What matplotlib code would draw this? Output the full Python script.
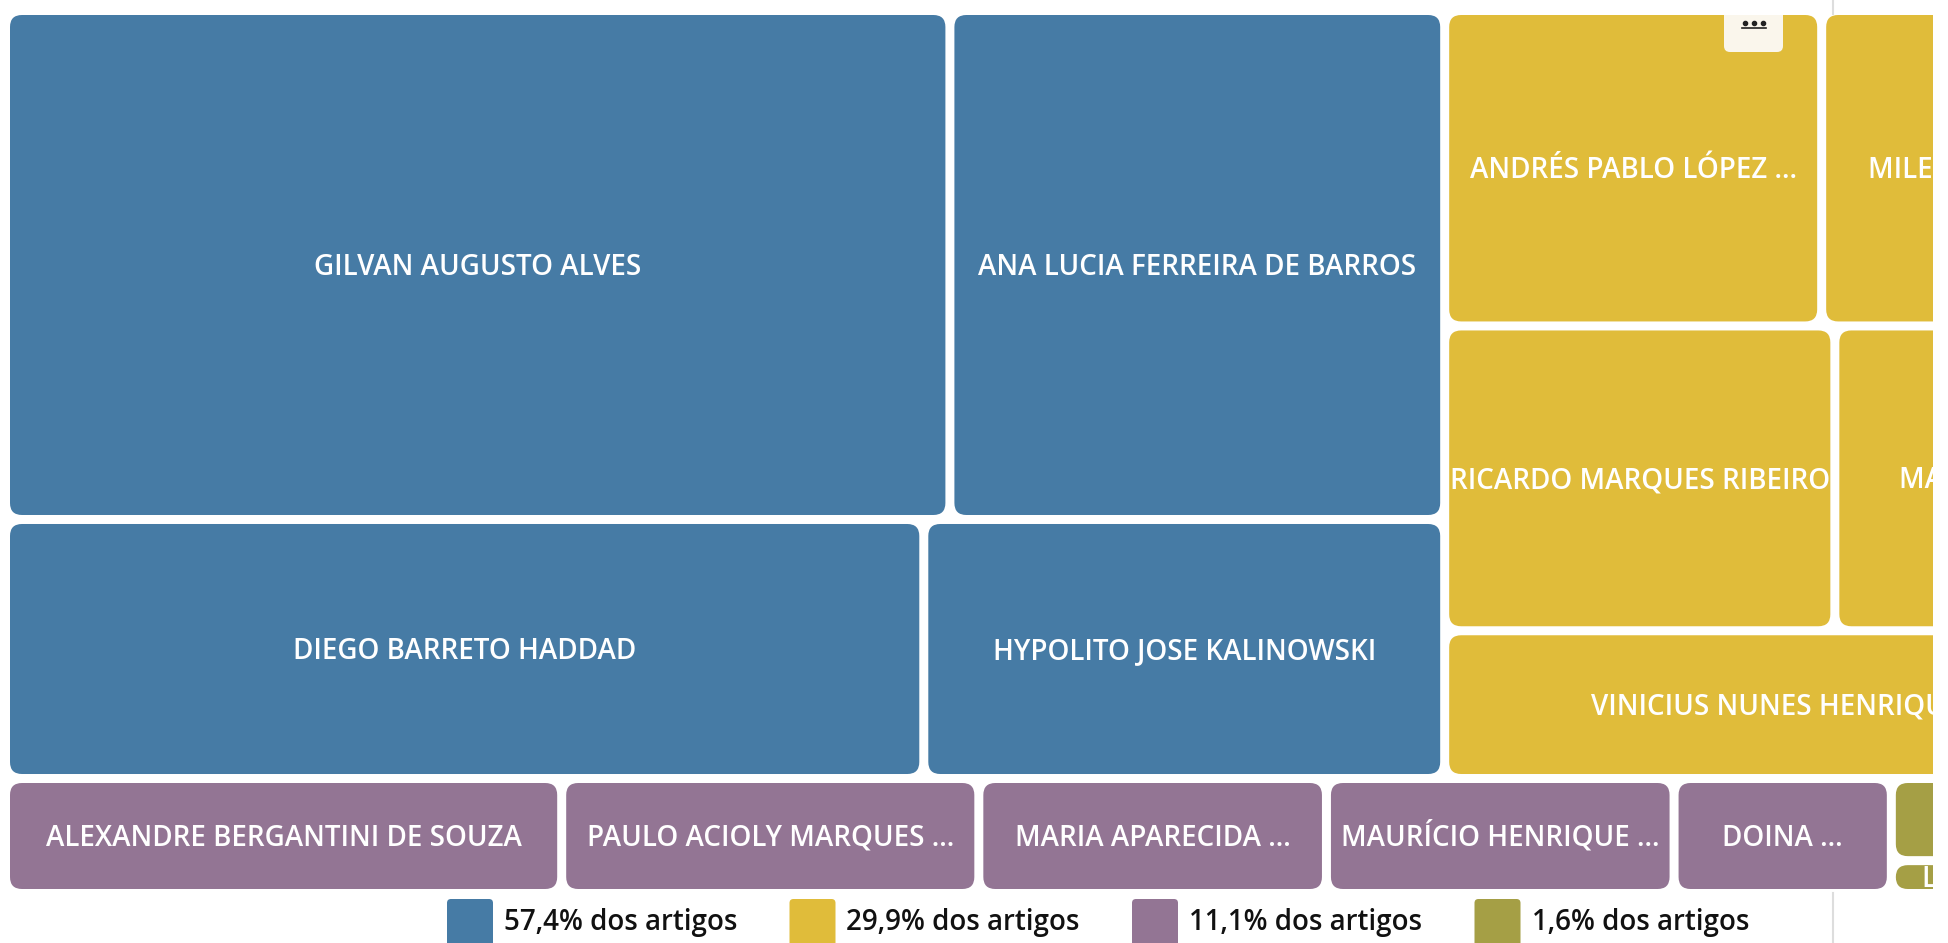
# -*- coding: utf-8 -*-
"""
Treemap de autores por participação nos artigos (recorte do painel)
"""
import matplotlib
matplotlib.use('Agg')
import matplotlib.pyplot as plt
from matplotlib.patches import FancyBboxPatch
from matplotlib.transforms import Bbox, TransformedBbox

plt.rcParams['font.family'] = ['Open Sans', 'DejaVu Sans']

# Dados
cores = ['#467BA5', '#E0BC3A', '#937594', '#A59F45']
legenda = ['57,4% dos artigos', '29,9% dos artigos', '11,1% dos artigos', '1,6% dos artigos']

nomes_azul = [['GILVAN AUGUSTO ALVES', 'ANA LUCIA FERREIRA DE BARROS'],
              ['DIEGO BARRETO HADDAD', 'HYPOLITO JOSE KALINOWSKI']]
valores_azul = [[481, 252], [238, 135]]

nomes_amarelo = [['ANDRÉS PABLO LÓPEZ ...', 'MILENA CRISTIANE ...'],
                 ['RICARDO MARQUES RIBEIRO', 'MARIA HELENA ...'],
                 ['VINICIUS NUNES HENRIQUES DE ...']]
valores_amarelo = [[119, 118], [119, 110], [111]]

nomes_roxo = [['ALEXANDRE BERGANTINI DE SOUZA', 'PAULO ACIOLY MARQUES ...', 'MARIA APARECIDA ...',
               'MAURÍCIO HENRIQUE ...', 'DOINA ...']]
valores_roxo = [[64, 48, 40, 40, 25]]

nomes_oliva = [['JOSÉ CARLOS ...'], ['L...', '', '']]
valores_oliva = [[25], [3.2, 3.4, 3.4]]

# faixas do treemap: (nomes, valores, cor)
faixas = [[(nomes_azul, valores_azul, cores[0]), (nomes_amarelo, valores_amarelo, cores[1])],
          [(nomes_roxo, valores_roxo, cores[2]), (nomes_oliva, valores_oliva, cores[3])]]

# Geometria (pixels)
FIG_W, FIG_H = 1948, 943
CLIP_X = 1933          # o visual está cortado à direita
X0, Y0 = 10, 15
TM_W, TM_H = 2190, 883
GAP = 9
RAIO = 12
FS_ROTULO = 20.0
FS_LEG = 20.0
PESO = 'semibold'
CAP = 0.714            # altura das maiúsculas (Open Sans)


def soma(linhas):
    return sum(sum(r) for r in linhas)


def layout_treemap(faixas, x0, y0, W, H):
    total = sum(soma(v) for faixa in faixas for _, v, _ in faixa)
    celulas = []
    y = y0
    for faixa in faixas:
        soma_faixa = sum(soma(v) for _, v, _ in faixa)
        h_f = H * soma_faixa / total
        x = x0
        for nomes, vals, cor in faixa:
            soma_g = soma(vals)
            w_g = W * soma_g / soma_faixa
            yy = y
            for linha_n, linha_v in zip(nomes, vals):
                h_l = h_f * sum(linha_v) / soma_g
                xx = x
                for n, v in zip(linha_n, linha_v):
                    w_c = w_g * v / sum(linha_v)
                    celulas.append((xx, yy, w_c, h_l, n, cor))
                    xx += w_c
                yy += h_l
            x += w_g
        y += h_f
    return celulas


fig = plt.figure(figsize=(FIG_W / 100, FIG_H / 100), dpi=100)
ax = fig.add_axes([0, 0, CLIP_X / FIG_W, 1])
ax.set_xlim(0, CLIP_X)
ax.set_ylim(FIG_H, 0)
ax.axis('off')

# linha divisória da página (só aparece fora do treemap)
ax.plot([1833, 1833], [0, Y0 - 1], color='#DDDDDD', lw=1.5, zorder=0)
ax.plot([1833, 1833], [893, FIG_H], color='#DDDDDD', lw=1.5, zorder=0)

for x, y, w, h, nome, cor in layout_treemap(faixas, X0, Y0, TM_W, TM_H):
    cw, ch = w - GAP, h - GAP
    ax.add_patch(FancyBboxPatch((x, y), cw, ch, boxstyle=f"round,pad=0,rounding_size={RAIO}",
                                facecolor=cor, edgecolor='none', zorder=2))
    if nome:
        fs_px = FS_ROTULO * 100 / 72
        t = ax.text(x + cw / 2, y + ch / 2 + CAP * fs_px / 2, nome, color='white',
                    fontsize=FS_ROTULO, fontweight=PESO, ha='center', va='baseline', zorder=3)
        caixa = Bbox.from_extents(x, y, min(x + cw, CLIP_X), y + ch)
        t.set_clip_box(TransformedBbox(caixa, ax.transData))
        t.set_clip_on(True)

# botão "..." do visual (topo reto, encostado no topo da célula)
botao = FancyBboxPatch((1724, 2), 59, 50, boxstyle="round,pad=0,rounding_size=6",
                       facecolor='#FAF6EC', edgecolor='none', zorder=4)
ax.add_patch(botao)
botao.set_clip_box(TransformedBbox(Bbox.from_extents(1700, Y0, 1800, 60), ax.transData))
ax.plot([1745, 1754, 1763], [23, 23, 23], 'o', color='#222222', ms=3, zorder=5)
ax.plot([1742, 1766], [28, 28], color='#222222', lw=1.2, zorder=5)

# legenda
leg_x0, leg_passo = 447, 342.5
for i, (cor, txt) in enumerate(zip(cores, legenda)):
    lx = leg_x0 + i * leg_passo
    ax.add_patch(FancyBboxPatch((lx, 899), 46, 60, boxstyle="round,pad=0,rounding_size=4",
                                facecolor=cor, edgecolor='none', zorder=2))
    ax.text(lx + 57, 930, txt, color='#111111', fontsize=FS_LEG, fontweight=PESO,
            ha='left', va='baseline')

plt.savefig('out.png', dpi=100, facecolor='white')
